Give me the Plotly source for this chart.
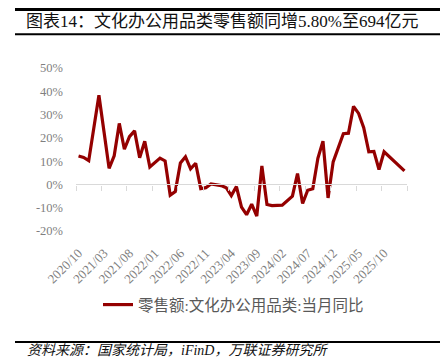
import plotly.graph_objects as go

# ---- data ----
start_year, start_month, n_months = 2020, 10, 65
months = []
y_, m_ = start_year, start_month
for _ in range(n_months):
    months.append(f"{y_}/{m_:02d}")
    m_ += 1
    if m_ > 12:
        m_ = 1
        y_ += 1

# 当月同比 (%) ; January values are not published (None)
yoy = [
    12.2, 11.6, 10.2, None, 38.3, 22.6, 6.9, 12.3, 26.2, 15.1,
    20.5, 23.0, 11.5, 18.5, 7.5, None, 11.3, 10.1, -4.6, -3.1,
    9.2, 11.9, 6.7, 9.1, -1.8, -1.4, 0.2, None, -0.5, -1.4,
    -4.8, -0.9, -9.7, -13.0, -8.5, -13.6, 7.9, -8.6, -9.1, None,
    -8.9, -6.8, -5.0, 4.7, -8.2, -2.5, -1.9, 11.2, 18.6, -5.8,
    9.7, None, 21.8, 22.0, 33.5, 30.5, 24.4, 14.0, 14.2, 6.4,
    14.0, 12.0, 9.8, None, 5.8,
]
series_name = "零售额:文化办公用品类:当月同比"
title_text = "图表14：文化办公用品类零售额同增5.80%至694亿元"
source_text = "资料来源：国家统计局，iFinD，万联证券研究所"
label_step = 5
y_ticks = [-20, -10, 0, 10, 20, 30, 40, 50]

# ---- layout geometry (page pixels; the page body adds an 8px offset) ----
PAGE_W, PAGE_H, OFF = 448, 358, 8
W, H = PAGE_W - OFF, PAGE_H - OFF
PLOT_L, PLOT_R, PLOT_T, PLOT_B = 76, 407, 68, 231   # plot area in page pixels
L, T = PLOT_L - OFF, PLOT_T - OFF
R, B = W - (PLOT_R - OFF), H - (PLOT_B - OFF)
PW, PH = W - L - R, H - T - B

def px_x(px):
    return (px - PLOT_L) / PW

def px_y(py):
    return (PLOT_B - py) / PH

idx = list(range(len(months)))
label_cats = months[::label_step]
boundaries = [i - 0.5 for i in range(0, len(months) + 1, label_step)]
ymin, ymax = y_ticks[0], y_ticks[-1]

serif = "Liberation Serif, 'Times New Roman', 'Noto Sans CJK SC', serif"
cjk = "'Liberation Serif', 'Noto Sans CJK SC', sans-serif"

fig = go.Figure()
# invisible carrier for the category label axis
fig.add_trace(go.Scatter(x=months, y=yoy, mode="lines", line=dict(width=1, color="rgba(0,0,0,0)"),
                         hoverinfo="skip", showlegend=False, connectgaps=True, xaxis="x", yaxis="y"))
# the series, drawn on the axis that sits on the 0% line
fig.add_trace(go.Scatter(x=idx, y=yoy, mode="lines", name=series_name, connectgaps=True,
                         line=dict(color="#940000", width=3.2), xaxis="x2", yaxis="y"))

fig.update_layout(
    template="none",
    width=W, height=H,
    margin=dict(l=L, r=R, t=T, b=B, autoexpand=False),
    paper_bgcolor="white", plot_bgcolor="rgba(0,0,0,0)",
    xaxis=dict(type="category", categoryorder="array", categoryarray=months,
               range=[-0.5, len(months) - 0.5], tickmode="array", tickvals=label_cats,
               ticktext=label_cats, tickangle=-45, ticks="", showline=False, showgrid=False,
               zeroline=False, automargin=False,
               tickfont=dict(family=serif, size=13, color="#7f7f7f"),
               ticklabelstandoff=11),
    xaxis2=dict(overlaying="x", anchor="free", position=(0 - ymin) / (ymax - ymin),
                type="linear", automargin=False,
                range=[-0.5, len(months) - 0.5], tickmode="array", tickvals=boundaries,
                ticks="outside", ticklen=5, tickcolor="#d9d9d9", tickwidth=1,
                showline=True, linecolor="#d9d9d9", linewidth=1.3,
                showticklabels=False, showgrid=False, zeroline=False),
    yaxis=dict(range=[ymin, ymax], tickmode="array", tickvals=y_ticks,
               ticktext=[f"{v}%" for v in y_ticks], ticks="", showline=False, showgrid=False,
               zeroline=False, automargin=False,
               tickfont=dict(family=serif, size=12.5, color="#7f7f7f"),
               ticklabelstandoff=12),
    showlegend=True,
    legend=dict(orientation="h", x=px_x(98), xanchor="left", y=px_y(305), yanchor="middle",
                font=dict(family=cjk, size=15.5, color="#595959"), bgcolor="rgba(0,0,0,0)",
                itemwidth=30),
    annotations=[
        dict(text=title_text, xref="paper", yref="paper", x=px_x(24), y=px_y(21.5),
             xanchor="left", yanchor="middle", showarrow=False,
             font=dict(family=cjk, size=17, color="#111111")),
        dict(text=source_text, xref="paper", yref="paper", x=px_x(25), y=px_y(350.5),
             xanchor="left", yanchor="middle", showarrow=False,
             font=dict(family=cjk, size=14, color="#111111", style="italic")),
    ],
    shapes=[
        dict(type="line", xref="paper", yref="paper", x0=px_x(15), x1=px_x(PAGE_W), y0=px_y(9.5), y1=px_y(9.5),
             line=dict(color="black", width=3)),
        dict(type="line", xref="paper", yref="paper", x0=px_x(15), x1=px_x(PAGE_W), y0=px_y(34.3), y1=px_y(34.3),
             line=dict(color="black", width=2)),
        dict(type="line", xref="paper", yref="paper", x0=px_x(15), x1=px_x(PAGE_W), y0=px_y(342), y1=px_y(342),
             line=dict(color="black", width=2)),
    ],
)

fig.write_html("out.html")
